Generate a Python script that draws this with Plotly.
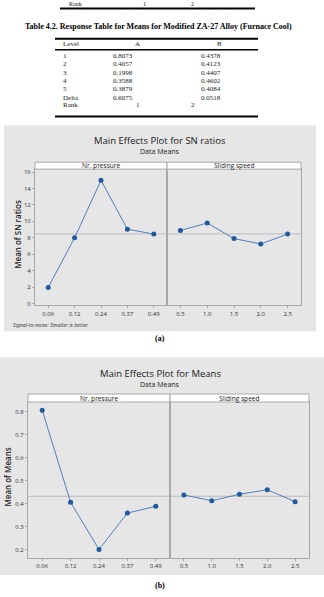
import plotly.graph_objects as go

# ---------------- data ----------------
pressure_levels = ["0.06", "0.12", "0.24", "0.37", "0.49"]
speed_levels = ["0.5", "1.0", "1.5", "2.0", "2.5"]

sn_pressure = [1.95, 8.0, 15.0, 9.05, 8.45]
sn_speed = [8.9, 9.8, 7.9, 7.25, 8.45]

mean_pressure = [0.8073, 0.4057, 0.1998, 0.3588, 0.3879]
mean_speed = [0.4378, 0.4123, 0.4407, 0.4602, 0.4084]

table_levels = ["1", "2", "3", "4", "5", "Delta", "Rank"]
table_A = ["0.8073", "0.4057", "0.1998", "0.3588", "0.3879", "0.6075"]
table_B = ["0.4378", "0.4123", "0.4407", "0.4602", "0.4084", "0.0518"]
rank_A = "1"
rank_B = "2"
table_title = "Table 4.2. Response Table for Means for Modified ZA-27 Alloy (Furnace Cool)"

W, H = 324, 597
def X(px):
    return px / W
def Y(py):
    return 1 - py / H

SERIF = "Liberation Serif"
SANS = "Open Sans"
LINE = "#4f7fbf"
MARK = "#1f5aa0"
BORDER = "#a8a8a8"
GREY = "#e6e6e6"

fig = go.Figure()
shapes = []
ann = []

def text(x, y, s, size, family=SANS, color="#222", xanchor="center", bold=False, italic=False, angle=0, weight=None):
    f = dict(size=size, family=family, color=color)
    if weight:
        f["weight"] = weight
    if italic:
        f["style"] = "italic"
    if bold:
        s = "<b>" + s + "</b>"
    ann.append(dict(x=X(x), y=Y(y), xref="paper", yref="paper", text=s, showarrow=False,
                    xanchor=xanchor, yanchor="middle", font=f, textangle=angle))

def hline(x0, x1, y, w, color="black"):
    shapes.append(dict(type="line", xref="paper", yref="paper", x0=X(x0), x1=X(x1), y0=Y(y), y1=Y(y),
                       line=dict(color=color, width=w)))

# ---------------- grey panels (drawn first) ----------------
shapes.append(dict(type="rect", xref="paper", yref="paper", x0=X(4), x1=X(316), y0=Y(332), y1=Y(125),
                   fillcolor=GREY, line=dict(width=0), layer="below"))
shapes.append(dict(type="rect", xref="paper", yref="paper", x0=X(0), x1=X(324), y0=Y(577), y1=Y(358),
                   fillcolor=GREY, line=dict(width=0), layer="below"))

# ---------------- table ----------------
text(67, 3, "Rank", 6, SERIF, xanchor="left")
text(144, 3, rank_A, 6, SERIF)
text(192, 3, rank_B, 6, SERIF)
hline(60, 255, 7.5, 2)

text(158, 26, table_title, 8, SERIF, color="black", bold=True)
hline(55, 258, 38, 2)
text(61, 43.5, "Level", 7, SERIF, xanchor="left")
text(137, 43.5, "A", 7, SERIF)
text(219, 43.5, "B", 7, SERIF)
hline(55, 258, 49, 1.5)
row_y = [55, 63.5, 72, 80, 88.5, 97, 105]
for i, lv in enumerate(table_levels):
    text(61, row_y[i], lv, 7, SERIF, xanchor="left")
for i in range(len(table_A)):
    text(111, row_y[i], table_A[i], 7, SERIF, xanchor="left")
    text(199, row_y[i], table_B[i], 7, SERIF, xanchor="left")
text(138, row_y[6], rank_A, 7, SERIF)
text(193, row_y[6], rank_B, 7, SERIF)
hline(55, 258, 116, 2)

# ---------------- charts ----------------
panels = [
    dict(title="Main Effects Plot for SN ratios", ty=140, sy=151, px=(35, 167, 301), strip=(162, 169),
         py=(169, 306), yr=[-0.24, 16.36], dt=2, ytitle="Mean of SN ratios", ytx=18, yty=235,
         left=sn_pressure, right=sn_speed, note=True, label="(a)", ly=339, fmt=None),
    dict(title="Main Effects Plot for Means", ty=374, sy=385, px=(28, 170, 309), strip=(395, 403),
         py=(403, 560), yr=[0.162, 0.843], dt=0.1, ytitle="Mean of Means", ytx=8, yty=479,
         left=mean_pressure, right=mean_speed, note=False, label="(b)", ly=587, fmt=".1f"),
]

layout_axes = {}
n = 0
for p in panels:
    xl, xm, xr = p["px"]
    st, sb = p["strip"]
    pt, pb = p["py"]
    grand = sum(p["left"] + p["right"]) / (len(p["left"]) + len(p["right"]))
    text(160, p["ty"], p["title"], 9.5, SANS, color="#1a1a1a", weight=500)
    text(160, p["sy"], "Data Means", 7, SANS, color="#222")
    text(p["ytx"], p["yty"], p["ytitle"], 8, SANS, color="#222", angle=-90, weight=600)
    text(160, p["ly"], p["label"], 8, SERIF, color="black", bold=True)
    if p["note"]:
        text(11, 326, "Signal-to-noise: Smaller is better", 5.3, SANS, color="#333", xanchor="left", italic=True)
    for side, (a, b), vals, cats, name in [(0, (xl, xm), p["left"], pressure_levels, "Nr. pressure"),
                                            (1, (xm, xr), p["right"], speed_levels, "Sliding speed")]:
        n += 1
        xa = "xaxis" if n == 1 else f"xaxis{n}"
        ya = "yaxis" if n == 1 else f"yaxis{n}"
        xr_ = "x" if n == 1 else f"x{n}"
        yr_ = "y" if n == 1 else f"y{n}"
        # strip
        shapes.append(dict(type="rect", xref="paper", yref="paper", x0=X(a), x1=X(b), y0=Y(sb), y1=Y(st),
                           fillcolor="white", line=dict(color=BORDER, width=1)))
        text((a + b) / 2, (st + sb) / 2 + 0.2, name, 6.6, SANS, color="#222")
        # reference line
        shapes.append(dict(type="line", xref=f"{xr_} domain", yref=yr_, x0=0, x1=1, y0=grand, y1=grand,
                           line=dict(color="#bdbdbd", width=1), layer="below"))
        fig.add_trace(go.Scatter(x=cats, y=vals, mode="lines+markers", xaxis=xr_, yaxis=yr_,
                                 line=dict(color=LINE, width=1), marker=dict(color=MARK, size=5),
                                 showlegend=False, hoverinfo="skip"))
        layout_axes[xa] = dict(domain=[X(a), X(b)], anchor=yr_, type="category", range=[-0.5, 4.5],
                               showgrid=False, zeroline=False, showline=True, mirror=True,
                               linecolor=BORDER, linewidth=1, ticks="outside", ticklen=2, tickcolor=BORDER,
                               tickfont=dict(size=6, family=SANS, color="#333"), fixedrange=True)
        layout_axes[ya] = dict(domain=[Y(pb), Y(pt)], anchor=xr_, range=p["yr"], dtick=p["dt"], tick0=0,
                               showgrid=False, zeroline=False, showline=True, mirror=True,
                               linecolor=BORDER, linewidth=1,
                               ticks="outside" if side == 0 else "", ticklen=2, tickcolor=BORDER,
                               showticklabels=(side == 0), tickformat=p["fmt"],
                               tickfont=dict(size=6, family=SANS, color="#333"), fixedrange=True)

fig.update_layout(
    width=W, height=H, autosize=False,
    margin=dict(l=0, r=0, t=0, b=0, pad=0),
    paper_bgcolor="white", plot_bgcolor="white",
    shapes=shapes, annotations=ann, showlegend=False,
    **layout_axes,
)
fig.write_html("out.html", config={"displayModeBar": False})
